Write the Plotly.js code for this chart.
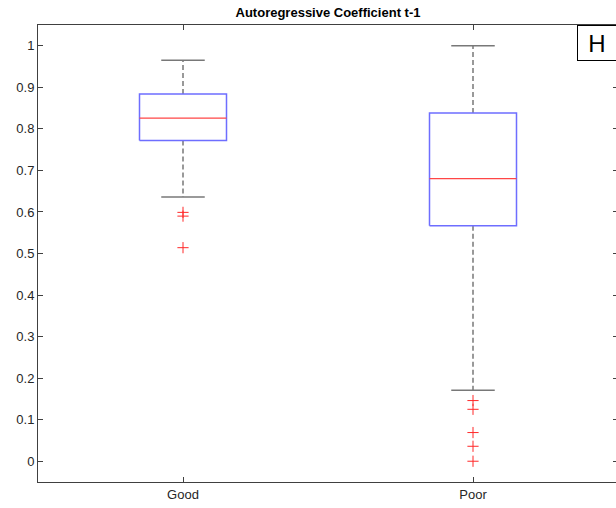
<!DOCTYPE html>
<html>
<head>
<meta charset="utf-8">
<script src="https://cdn.plot.ly/plotly-3.0.1.min.js"></script>
<style>
html,body{margin:0;padding:0;overflow:hidden;background:#fff;}
#chart{width:620px;height:508px;}
</style>
</head>
<body>
<div id="chart"></div>
<script>
// ---- data ----
const categories = ['Good', 'Poor'];
const q1 = [0.772, 0.567];
const medians = [0.826, 0.680];
const q3 = [0.884, 0.838];
const lowerWhisker = [0.636, 0.171];
const upperWhisker = [0.965, 1.0];
const outliersGood = [0.599, 0.590, 0.514];
const outliersPoor = [0.146, 0.125, 0.069, 0.036, 0.0];
const outliers = [outliersGood, outliersPoor];

// ---- styling ----
const boxHalf = 0.15;
const capHalf = 0.075;
const axisColor = '#404040';
const fontFam = '"Liberation Sans", Arial, Helvetica, sans-serif';

const pos = categories.map((c, i) => i + 1);

function seg(builder) {
  const xs = [], ys = [];
  pos.forEach((p, i) => {
    const s = builder(p, i);
    xs.push(...s[0], null);
    ys.push(...s[1], null);
  });
  return {x: xs, y: ys};
}

const whiskers = seg((p, i) => [[p, p, null, p, p], [q3[i], upperWhisker[i], null, q1[i], lowerWhisker[i]]]);
const caps = seg((p, i) => [[p - capHalf, p + capHalf, null, p - capHalf, p + capHalf],
                            [upperWhisker[i], upperWhisker[i], null, lowerWhisker[i], lowerWhisker[i]]]);
const boxes = seg((p, i) => [[p - boxHalf, p + boxHalf, p + boxHalf, p - boxHalf, p - boxHalf],
                             [q1[i], q1[i], q3[i], q3[i], q1[i]]]);
const meds = seg((p, i) => [[p - boxHalf, p + boxHalf], [medians[i], medians[i]]]);

const ox = [], oy = [];
outliers.forEach((arr, i) => arr.forEach(v => { ox.push(pos[i]); oy.push(v); }));

const traces = [
  {type: 'scatter', mode: 'lines', x: whiskers.x, y: whiskers.y, connectgaps: false,
   line: {color: 'rgb(120,120,120)', width: 1.5, dash: '5px,3px'}, hoverinfo: 'skip'},
  {type: 'scatter', mode: 'lines', x: caps.x, y: caps.y, connectgaps: false,
   line: {color: 'rgb(120,120,120)', width: 1.5}, hoverinfo: 'skip'},
  {type: 'scatter', mode: 'lines', x: boxes.x, y: boxes.y, connectgaps: false,
   line: {color: 'rgb(110,110,255)', width: 1.5}, hoverinfo: 'skip'},
  {type: 'scatter', mode: 'lines', x: meds.x, y: meds.y, connectgaps: false,
   line: {color: 'rgb(255,70,70)', width: 1.2}, hoverinfo: 'skip'},
  {type: 'scatter', mode: 'markers', x: ox, y: oy,
   marker: {symbol: 'cross-thin-open', size: 8, color: 'rgb(255,40,40)',
            line: {color: 'rgb(255,40,40)', width: 1}}, hoverinfo: 'skip'}
];

const layout = {
  width: 620, height: 508,
  margin: {l: 38, r: 2, t: 25, b: 26, pad: 0},
  paper_bgcolor: '#fff', plot_bgcolor: '#fff',
  showlegend: false,
  font: {family: fontFam, size: 13, color: '#262626'},
  title: {text: '<b>Autoregressive Coefficient t-1</b>', font: {family: fontFam, size: 13, color: '#000'},
          x: 0.5, xref: 'paper', xanchor: 'center', y: 1 - 12 / 508, yref: 'container', yanchor: 'middle'},
  xaxis: {range: [0.5, 2.5], tickvals: pos, ticktext: categories, showgrid: false, zeroline: false,
          showline: true, linecolor: axisColor, linewidth: 1, mirror: 'ticks',
          ticks: 'inside', ticklen: 5, tickcolor: axisColor, tickwidth: 1, automargin: false,
          tickfont: {family: fontFam, size: 13, color: '#262626'}, fixedrange: true},
  yaxis: {range: [-0.05, 1.05], tickvals: [0, 0.1, 0.2, 0.3, 0.4, 0.5, 0.6, 0.7, 0.8, 0.9, 1],
          ticktext: ['0', '0.1', '0.2', '0.3', '0.4', '0.5', '0.6', '0.7', '0.8', '0.9', '1'],
          showgrid: false, zeroline: false,
          showline: true, linecolor: axisColor, linewidth: 1, mirror: 'ticks',
          ticks: 'inside', ticklen: 5, tickcolor: axisColor, tickwidth: 1, automargin: false,
          tickfont: {family: fontFam, size: 13, color: '#262626'}, fixedrange: true},
  annotations: [{
    text: 'H', xref: 'paper', yref: 'paper', x: 0.929, y: 1, xanchor: 'left', yanchor: 'top',
    showarrow: false, font: {family: fontFam, size: 24, color: '#000'},
    bordercolor: '#000', borderwidth: 1, bgcolor: '#fff', width: 38, height: 34, borderpad: 0, align: 'center'
  }]
};

Plotly.newPlot('chart', traces, layout, {staticPlot: true, displayModeBar: false});
</script>
</body>
</html>
